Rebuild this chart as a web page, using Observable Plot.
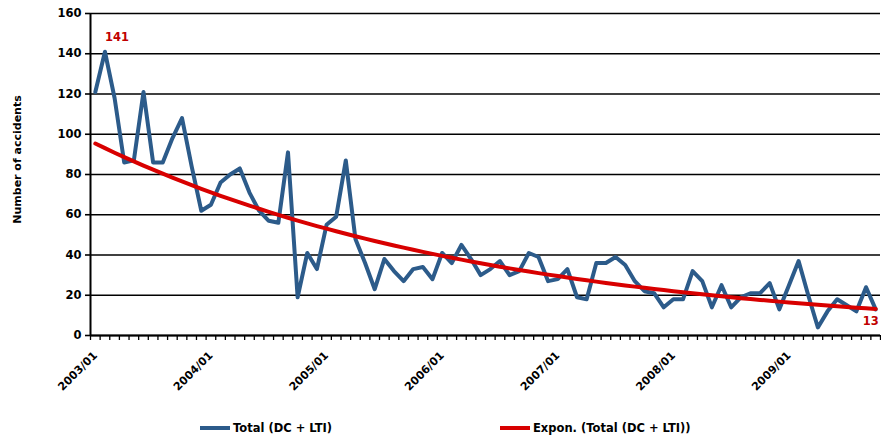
<!DOCTYPE html>
<html><head><meta charset="utf-8">
<script src="https://cdn.jsdelivr.net/npm/d3@7"></script>
<script src="https://cdn.jsdelivr.net/npm/@observablehq/plot@0.6"></script>
<style>
body{margin:0;background:#fff;}
#wrap{position:relative;width:881px;height:442px;overflow:hidden;font-family:"DejaVu Sans",sans-serif;font-weight:bold;color:#000;}
#wrap svg{position:absolute;left:0;top:0;}
.item{position:absolute;top:420px;height:16px;display:flex;align-items:center;font-size:11.5px;white-space:nowrap;}
.sw{width:30px;height:4px;margin-right:3px;}
</style></head><body><div id="wrap"></div>
<script>
const months = [
 "2003/01","2003/02","2003/03","2003/04","2003/05","2003/06","2003/07","2003/08","2003/09","2003/10","2003/11","2003/12",
 "2004/01","2004/02","2004/03","2004/04","2004/05","2004/06","2004/07","2004/08","2004/09","2004/10","2004/11","2004/12",
 "2005/01","2005/02","2005/03","2005/04","2005/05","2005/06","2005/07","2005/08","2005/09","2005/10","2005/11","2005/12",
 "2006/01","2006/02","2006/03","2006/04","2006/05","2006/06","2006/07","2006/08","2006/09","2006/10","2006/11","2006/12",
 "2007/01","2007/02","2007/03","2007/04","2007/05","2007/06","2007/07","2007/08","2007/09","2007/10","2007/11","2007/12",
 "2008/01","2008/02","2008/03","2008/04","2008/05","2008/06","2008/07","2008/08","2008/09","2008/10","2008/11","2008/12",
 "2009/01","2009/02","2009/03","2009/04","2009/05","2009/06","2009/07","2009/08","2009/09","2009/10"
];
const totals = [
 121,141,118,86,87,121,86,86,98,108,84,62,
 65,76,80,83,71,62,57,56,91,19,41,33,
 55,59,87,48,36,23,38,32,27,33,34,28,
 41,36,45,38,30,33,37,30,32,41,39,27,
 28,33,19,18,36,36,39,35,27,22,21,14,
 18,18,32,27,14,25,14,19,21,21,26,13,
 25,37,20,4,12,18,15,12,24,13
];
const yTicks = [0,20,40,60,80,100,120,140,160];
const xTickLabels = ["2003/01","2004/01","2005/01","2006/01","2007/01","2008/01","2009/01"];
const seriesNames = ["Total (DC + LTI)", "Expon. (Total (DC + LTI))"];
const seriesColors = ["#2C5B8A", "#D80000"];
const labelColor = "#C00000";
const yTitle = "Number of accidents";

const n = months.length;
const data = months.map((m, i) => ({i, m, v: totals[i]}));
// Excel-style exponential trendline: least squares on ln(y)
const mx = d3.mean(data, d => d.i), my = d3.mean(data, d => Math.log(d.v));
const b = d3.sum(data, d => (d.i - mx) * (Math.log(d.v) - my)) / d3.sum(data, d => (d.i - mx) ** 2);
const a = Math.exp(my - b * mx);
const trend = data.map(d => ({i: d.i, v: a * Math.exp(b * d.i)}));
const bounds = d3.range(n + 1).map(k => k - 0.5);
const labelIdx = xTickLabels.map(m => months.indexOf(m));
const maxIdx = d3.maxIndex(totals);
const lastIdx = n - 1;

const chart = Plot.plot({
  width: 881, height: 400,
  marginLeft: 90, marginRight: 1, marginTop: 13, marginBottom: 65,
  x: {domain: [-0.5, n - 0.5]},
  y: {domain: [0, 160]},
  style: {fontFamily: "'DejaVu Sans', sans-serif", fontWeight: "bold", fontSize: "11px", color: "#000", background: "#fff"},
  marks: [
    Plot.gridY(yTicks, {stroke: "#000", strokeOpacity: 1, strokeWidth: 1.6}),
    Plot.axisY(yTicks, {tickSize: 5, tickPadding: 4, strokeWidth: 1.6, label: null, fontSize: 11.5}),
    Plot.axisX(bounds, {tickSize: 5, tickFormat: () => "", strokeWidth: 1.3, label: null}),
    Plot.axisX(labelIdx, {tickSize: 0, tickPadding: 18, tickRotate: -45, tickFormat: i => months[i], label: null, fontSize: 11}),
    Plot.ruleX([-0.5], {stroke: "#000", strokeWidth: 2}),
    Plot.ruleY([0], {stroke: "#000", strokeWidth: 2}),
    Plot.line(data, {x: "i", y: "v", stroke: seriesColors[0], strokeWidth: 4, strokeLinejoin: "round"}),
    Plot.line(trend, {x: "i", y: "v", stroke: seriesColors[1], strokeWidth: 4}),
    Plot.text([data[maxIdx]], {x: "i", y: "v", text: d => String(d.v), fill: labelColor, dx: 12, dy: -14, fontSize: 11.5, fontWeight: "bold"}),
    Plot.text([data[lastIdx]], {x: "i", y: "v", text: d => String(d.v), fill: labelColor, dx: -5, dy: 12, fontSize: 11.5, fontWeight: "bold"}),
    Plot.text([yTitle], {frameAnchor: "left", textAnchor: "middle", text: d => d, rotate: -90, dx: -73, dy: -15, fontSize: 11, fontWeight: "bold"})
  ]
});
const wrap = document.getElementById("wrap");
wrap.appendChild(chart);
const lefts = [200, 500];
seriesNames.forEach((name, k) => {
  const it = document.createElement("div");
  it.className = "item";
  it.style.left = lefts[k] + "px";
  const sw = document.createElement("span");
  sw.className = "sw";
  sw.style.background = seriesColors[k];
  const tx = document.createElement("span");
  tx.textContent = name;
  it.appendChild(sw); it.appendChild(tx);
  wrap.appendChild(it);
});
</script></body></html>
